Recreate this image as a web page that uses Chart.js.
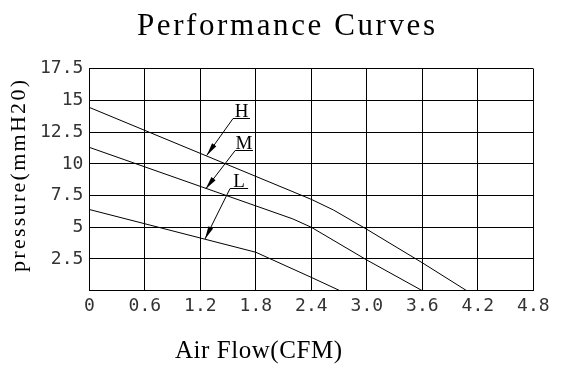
<!DOCTYPE html>
<html><head><meta charset="utf-8">
<script src="https://cdn.jsdelivr.net/npm/chart.js@4/dist/chart.umd.min.js"></script>
<style>html,body{margin:0;padding:0;background:#fff;}</style>
</head><body>
<canvas id="c" width="569" height="372" style="display:block;width:569px;height:372px"></canvas>
<script>
// ---- data ----
const chartTitle = 'Performance Curves';
const xAxisTitle = 'Air Flow(CFM)';
const yAxisTitle = 'pressure(mmH20)';
const xTickLabels = ['0','0.6','1.2','1.8','2.4','3.0','3.6','4.2','4.8'];
const yTickLabels = ['','2.5','5','7.5','10','12.5','15','17.5'];
const seriesNames = ['H','M','L'];
const hFlow = [0, 2.4, 2.64, 3.0, 3.6, 4.08];
const hPressure = [14.45, 7.2, 6.36, 4.84, 2.2, 0];
const mFlow = [0, 2.2, 2.4, 3.0, 3.6];
const mPressure = [11.3, 5.66, 5.0, 2.42, 0];
const lFlow = [0, 1.8, 2.4, 2.71];
const lPressure = [6.4, 3.03, 1.05, 0];

// callout anchors in data units (tip on curve, elbow of leader, end of underline x)
const calloutGeometry = {
  H: {tip:[1.269,10.66], elbow:[1.554,13.59], endX:1.737},
  M: {tip:[1.258,8.02],  elbow:[1.577,11.09], endX:1.769},
  L: {tip:[1.251,4.08],  elbow:[1.522,8.07],  endX:1.717}
};

const toPts = (xs, ys) => xs.map((x,i)=>({x, y: ys[i]}));
const flows = [hFlow, mFlow, lFlow];
const pressures = [hPressure, mPressure, lPressure];

function drawSpaced(ctx, text, cx, cy, size, targetWidth, rot) {
  ctx.save();
  ctx.font = size + 'px "Liberation Serif"';
  const w = ctx.measureText(text).width;
  const capH = ctx.measureText('H').actualBoundingBoxAscent;
  ctx.translate(cx, cy);
  ctx.rotate(rot || 0);
  ctx.textAlign = 'center';
  ctx.textBaseline = 'alphabetic';
  ctx.fillStyle = '#000';
  if ('letterSpacing' in ctx) {
    const ls = (targetWidth - w) / (text.length - 1);
    ctx.letterSpacing = ls.toFixed(2) + 'px';
    ctx.fillText(text, ls / 2, capH / 2);
  } else {
    ctx.scale(targetWidth / w, 1);
    ctx.fillText(text, 0, capH / 2);
  }
  ctx.restore();
}

const annotPlugin = {
  id: 'annot',
  afterDraw(chart) {
    const ctx = chart.ctx;
    const xs = chart.scales.x, ys = chart.scales.y;
    drawSpaced(ctx, chartTitle, 286, 24, 31, 298, 0);
    drawSpaced(ctx, xAxisTitle, 258.5, 349, 25, 167, 0);
    drawSpaced(ctx, yAxisTitle, 18, 176, 22, 192, -Math.PI/2);

    seriesNames.forEach(name => {
      const g = calloutGeometry[name];
      const tx = xs.getPixelForValue(g.tip[0]), ty = ys.getPixelForValue(g.tip[1]);
      const ex = xs.getPixelForValue(g.elbow[0]), ey = ys.getPixelForValue(g.elbow[1]);
      const ux = xs.getPixelForValue(g.endX);
      ctx.save();
      ctx.strokeStyle = '#000'; ctx.fillStyle = '#000'; ctx.lineWidth = 1;
      ctx.beginPath();
      ctx.moveTo(ux, Math.round(ey) + 0.5);
      ctx.lineTo(ex, Math.round(ey) + 0.5);
      ctx.lineTo(tx, ty);
      ctx.stroke();
      // arrow head
      const ang = Math.atan2(ey - ty, ex - tx);
      const len = 13, hw = 2.6;
      const bx = tx + Math.cos(ang) * len, by = ty + Math.sin(ang) * len;
      ctx.beginPath();
      ctx.moveTo(tx, ty);
      ctx.lineTo(bx + Math.sin(ang) * hw, by - Math.cos(ang) * hw);
      ctx.lineTo(bx - Math.sin(ang) * hw, by + Math.cos(ang) * hw);
      ctx.closePath();
      ctx.fill();
      // label
      ctx.font = '19px "Liberation Serif"';
      ctx.textAlign = 'center';
      ctx.textBaseline = 'alphabetic';
      ctx.fillText(name, (ex + ux) / 2, Math.round(ey) - 1);
      ctx.restore();
    });
  }
};

const tickFont = {family: '"DejaVu Sans Mono"', size: 18};

new Chart(document.getElementById('c'), {
  type: 'scatter',
  data: {
    datasets: seriesNames.map((n, i) => ({
      label: n,
      data: toPts(flows[i], pressures[i]),
      showLine: true,
      borderColor: '#000',
      borderWidth: 1,
      pointRadius: 0,
      tension: 0
    }))
  },
  options: {
    responsive: false,
    animation: false,
    events: [],
    layout: {padding: {top: 68.7, left: 0, right: 569 - 533.3, bottom: 0}},
    plugins: {legend: {display: false}, tooltip: {enabled: false}, title: {display: false}},
    scales: {
      x: {
        type: 'linear', min: 0, max: 4.8,
        ticks: {stepSize: 0.6, autoSkip: false, maxRotation: 0, padding: 5, color: '#333', font: tickFont,
          callback: (v, i) => xTickLabels[i]},
        grid: {color: '#000', lineWidth: 1, drawTicks: false},
        border: {color: '#000', width: 1},
        afterFit: s => { s.height = 372 - 290.7; }
      },
      y: {
        type: 'linear', min: 0, max: 17.5,
        ticks: {stepSize: 2.5, autoSkip: false, padding: 6, color: '#333', font: tickFont,
          callback: (v, i) => yTickLabels[i]},
        grid: {color: '#000', lineWidth: 1, drawTicks: false},
        border: {color: '#000', width: 1},
        afterFit: s => { s.width = 89.3; }
      }
    }
  },
  plugins: [annotPlugin]
});
</script>
</body></html>
